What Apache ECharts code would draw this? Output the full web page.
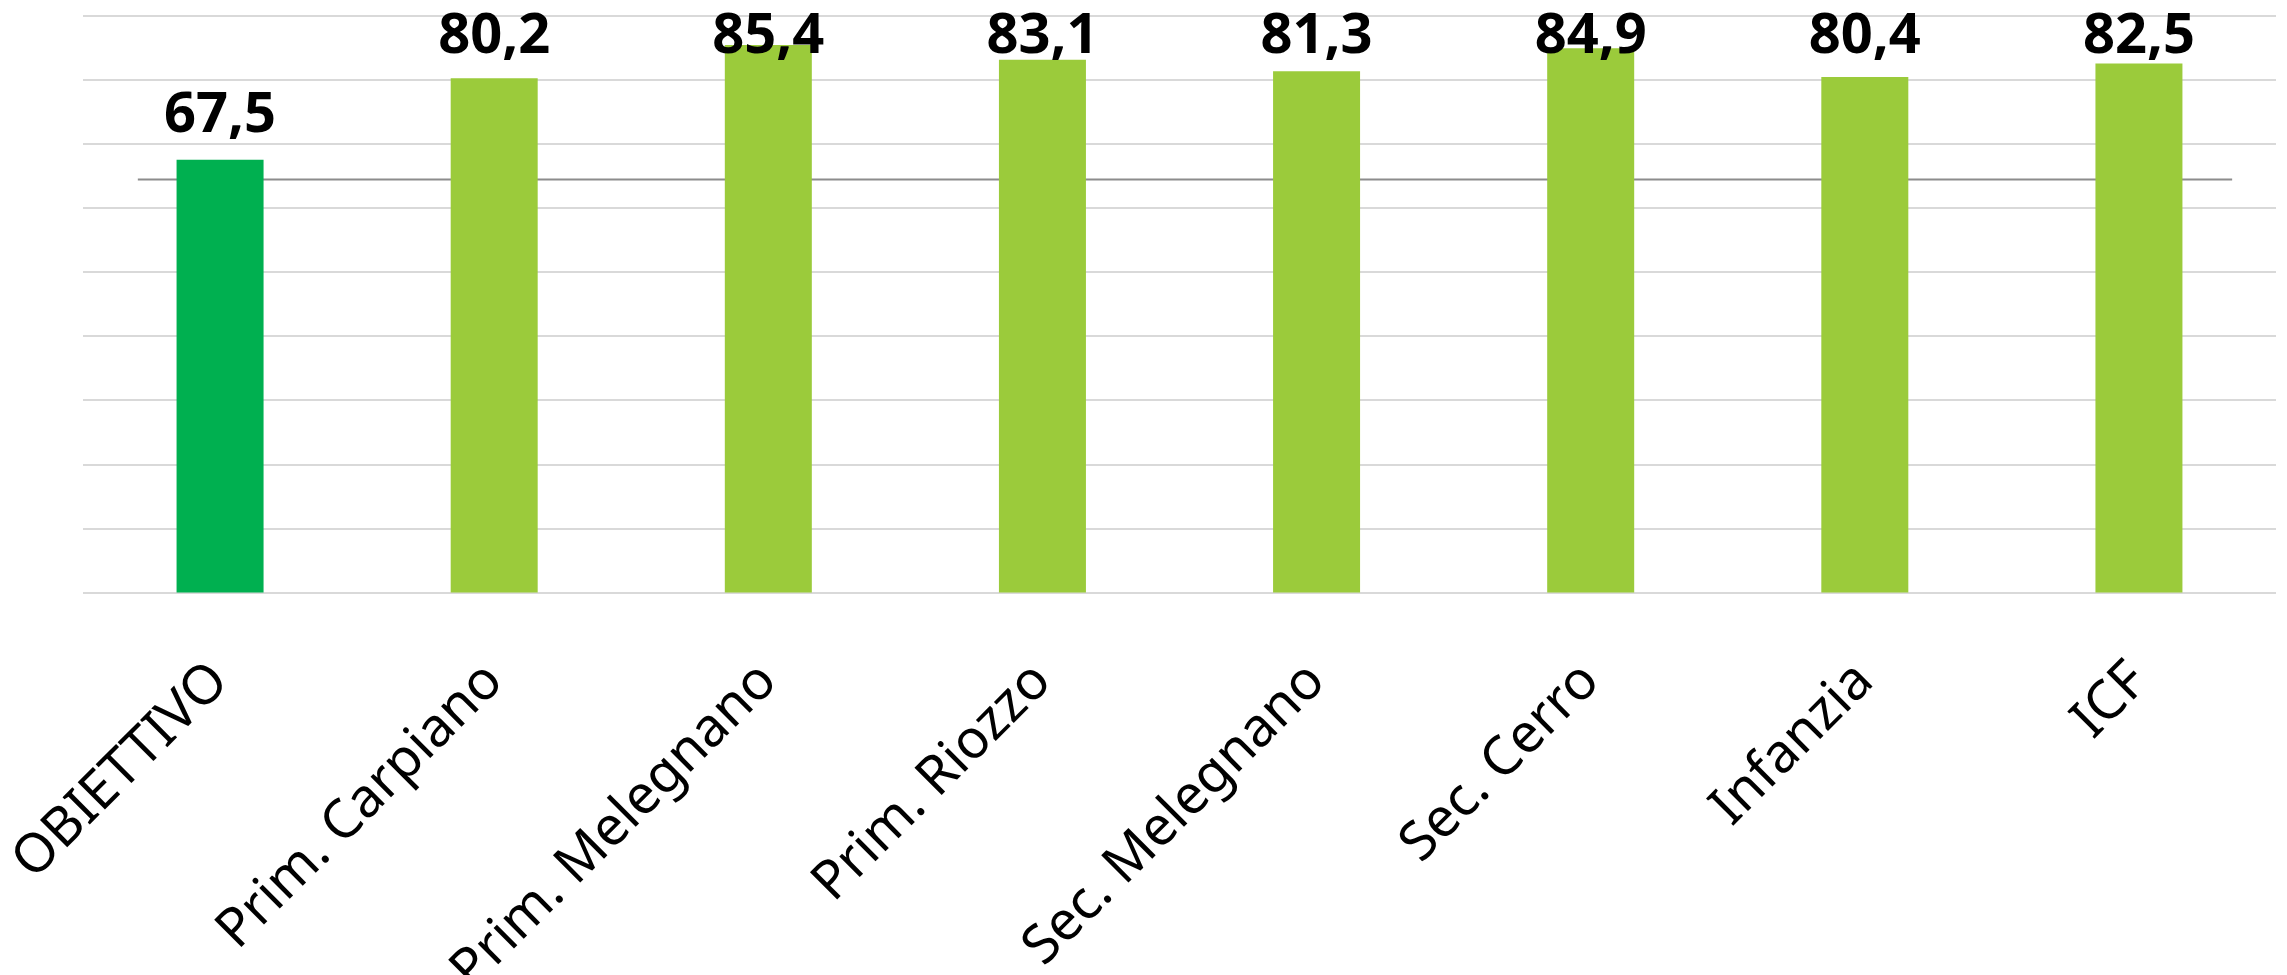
<!DOCTYPE html>
<html>
<head>
<meta charset="utf-8">
<script src="https://cdn.jsdelivr.net/npm/echarts@6/dist/echarts.min.js"></script>
<style>
html,body{margin:0;padding:0;background:#fff;}
#c{width:2287px;height:975px;}
</style>
</head>
<body>
<div id="c"></div>
<script>
const categories = ['OBIETTIVO','Prim. Carpiano','Prim. Melegnano','Prim. Riozzo','Sec. Melegnano','Sec. Cerro','Infanzia','ICF'];
const values = [67.5, 80.2, 85.4, 83.1, 81.3, 84.9, 80.4, 82.5];
const thresholdValue = 64.4;
const thresholdStart = -0.3;
const thresholdEnd = 7.34;
const yMin = 0, yMax = 90, yStep = 10;

const objColor = '#00B050';
const barColor = '#9BCB3B';
const labelTopLimit = 9;

const chart = echarts.init(document.getElementById('c'), null, {renderer:'canvas'});
chart.setOption({
  animation: false,
  backgroundColor: '#ffffff',
  grid: {left: 83, right: 11, top: 15.5, bottom: 382.5, containLabel: false, outerBoundsMode: 'none'},
  xAxis: [{
    type: 'category',
    data: categories,
    boundaryGap: true,
    axisLine: {show: false},
    axisTick: {show: false},
    axisLabel: {
      rotate: 45,
      margin: 80,
      fontFamily: 'Noto Sans',
      fontSize: 54,
      color: '#000000',
      interval: 0
    }
  }, {
    type: 'value',
    min: -0.5, max: 7.5,
    show: false
  }],
  yAxis: {
    type: 'value',
    min: yMin, max: yMax, interval: yStep,
    axisLabel: {show: false},
    axisLine: {show: false},
    axisTick: {show: false},
    splitLine: {lineStyle: {color: '#d9d9d9', width: 2}}
  },
  series: [{
    type: 'line',
    xAxisIndex: 1,
    data: [[thresholdStart, thresholdValue], [thresholdEnd, thresholdValue]],
    symbol: 'none',
    lineStyle: {color: '#8c8c8c', width: 2},
    z: 2,
    silent: true
  }, {
    type: 'bar',
    xAxisIndex: 0,
    data: values.map((v, i) => ({value: v, itemStyle: {color: i === 0 ? objColor : barColor}})),
    barWidth: 87,
    z: 3,
    label: {
      show: true,
      position: 'top',
      distance: 16,
      fontFamily: 'Noto Sans',
      fontWeight: 'bold',
      fontSize: 56,
      color: '#000000',
      formatter: p => p.value.toFixed(1).replace('.', ',')
    },
    labelLayout: function (params) {
      const r = params.labelRect;
      if (r.y < labelTopLimit) {
        return {dy: labelTopLimit - r.y};
      }
      return {};
    }
  }]
});
</script>
</body>
</html>
